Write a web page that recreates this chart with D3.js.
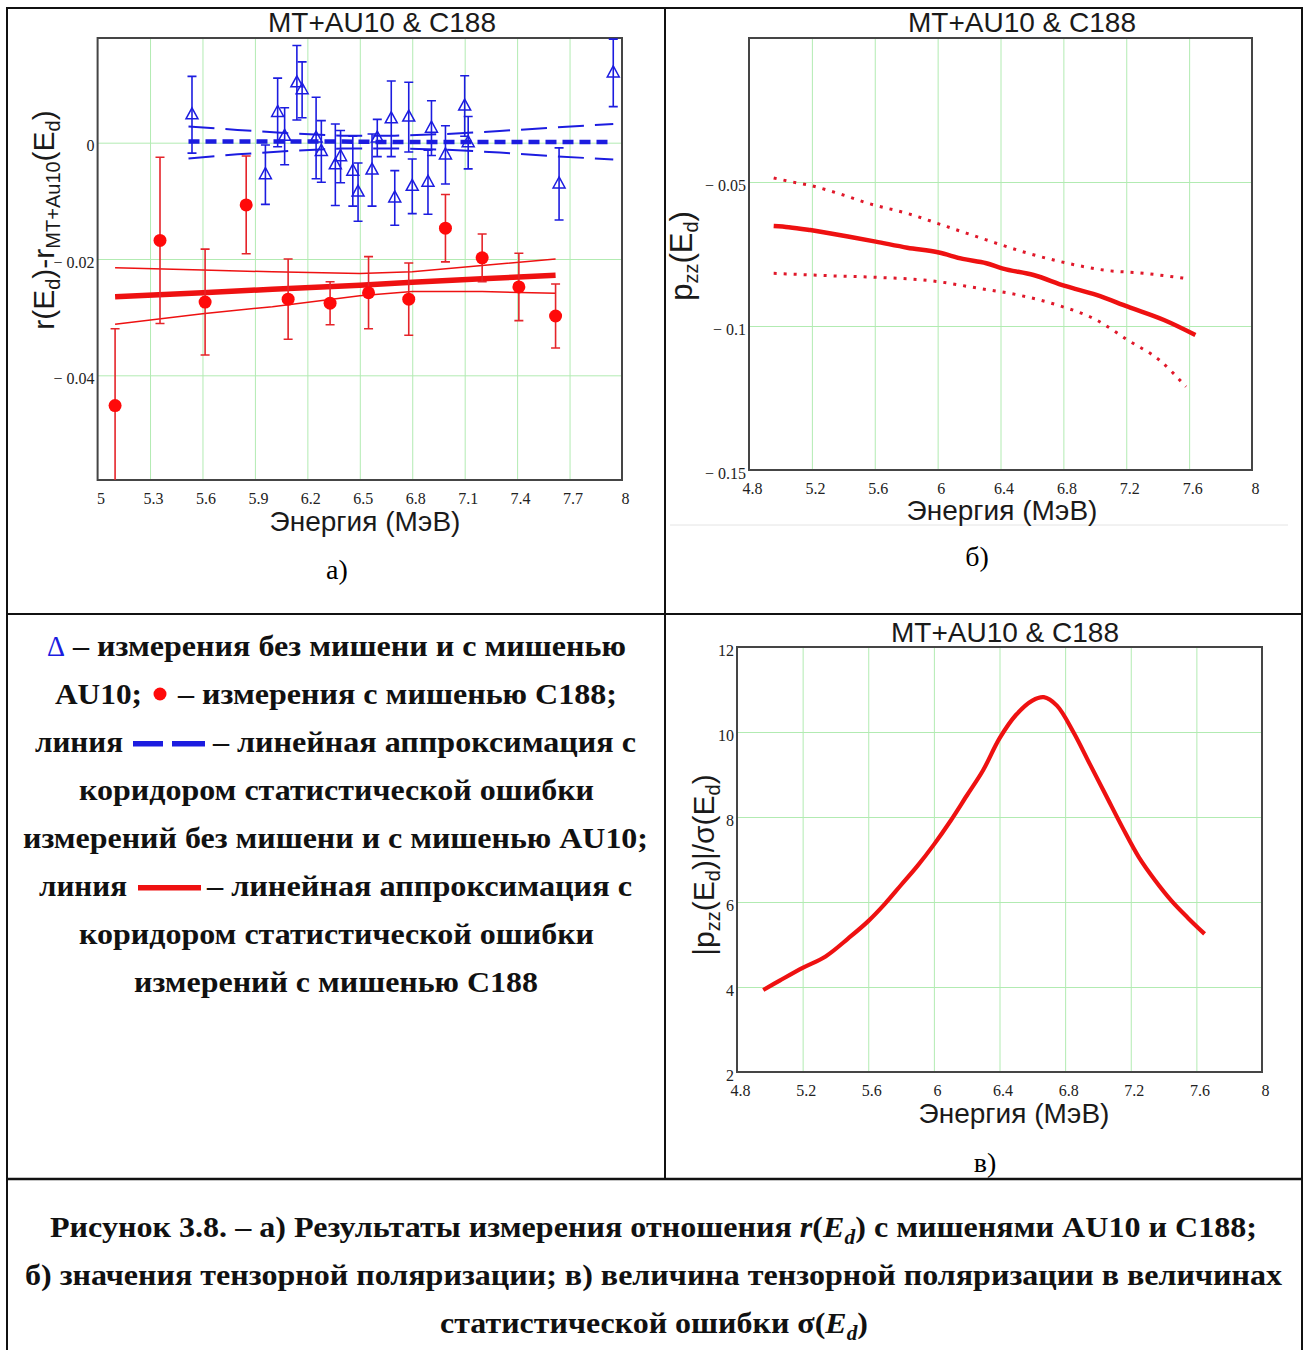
<!DOCTYPE html>
<html><head><meta charset="utf-8">
<script src="https://cdn.jsdelivr.net/npm/d3@7"></script>
<style>body{margin:0;background:#fff}</style>
</head><body><script>
// ---- panel a: r(Ed) - rMT+Au10(Ed) ----
blueE   = [5.54, 5.96, 6.03, 6.07, 6.14, 6.17, 6.25, 6.28, 6.36, 6.39, 6.46, 6.49, 6.57, 6.60, 6.68, 6.70, 6.78, 6.80, 6.89, 6.91, 6.99, 7.10, 7.12, 7.64, 7.95];
blueV   = [0.0048, -0.0055, 0.0052, 0.0011, 0.0103, 0.0091, 0.0008, -0.0015, -0.0038, -0.0024, -0.0049, -0.0085, -0.0047, 0.0008, 0.0041, -0.0095, 0.0044, -0.0075, -0.0068, 0.0025, -0.0021, 0.0063, 0.0000, -0.0071, 0.0120];
blueErr = [0.0066, 0.0051, 0.0059, 0.0049, 0.0064, 0.0048, 0.0070, 0.0053, 0.0070, 0.0045, 0.0060, 0.0050, 0.0062, 0.0032, 0.0065, 0.0047, 0.0060, 0.0047, 0.0055, 0.0047, 0.0050, 0.0052, 0.0045, 0.0062, 0.0058];

blueFitE   = [5.52, 5.8, 6.1, 6.4, 6.7, 7.0, 7.3, 7.6, 7.95];
blueFit    = [0.0002, 0.0002, 0.0002, 0.0002, 0.0001, 0.0001, 0.0001, 0.0001, 0.0001];
blueUpper  = [0.0028, 0.0022, 0.0016, 0.0012, 0.0012, 0.0015, 0.0020, 0.0026, 0.0032];
blueLower  = [-0.0027, -0.0020, -0.0014, -0.0010, -0.0010, -0.0012, -0.0017, -0.0023, -0.0029];

redE   = [5.10, 5.357, 5.615, 5.85, 6.09, 6.33, 6.55, 6.78, 6.99, 7.20, 7.41, 7.62];
redV   = [-0.0452, -0.0168, -0.0274, -0.0107, -0.0269, -0.0276, -0.0258, -0.0269, -0.0147, -0.0198, -0.0248, -0.0298];
redErr = [0.0132, 0.0143, 0.0091, 0.0084, 0.0069, 0.0037, 0.0062, 0.0062, 0.0058, 0.0041, 0.0058, 0.0055];

redFitE   = [5.1, 5.6, 6.0, 6.5, 6.8, 7.2, 7.62];
redFit    = [-0.0265, -0.0258, -0.0252, -0.0245, -0.0240, -0.0234, -0.0228];
redUpper  = [-0.0215, -0.0219, -0.0222, -0.0225, -0.0222, -0.0211, -0.0200];
redLower  = [-0.0312, -0.0294, -0.0282, -0.0263, -0.0256, -0.0256, -0.0259];

xTicksA = [5, 5.3, 5.6, 5.9, 6.2, 6.5, 6.8, 7.1, 7.4, 7.7, 8];
yTicksA = [0, -0.02, -0.04];

// ---- panel б: pzz(Ed) ----
pzzE  = [4.957, 5.053, 5.19, 5.455, 5.606, 5.807, 6.008, 6.16, 6.31, 6.41, 6.61, 6.81, 7.01, 7.21, 7.44, 7.64];
pzzV  = [-0.0653, -0.0657, -0.0667, -0.0692, -0.0707, -0.0728, -0.0745, -0.0767, -0.0782, -0.0800, -0.0823, -0.0861, -0.0892, -0.0933, -0.0979, -0.1031];
pzzUpE = [4.957, 5.05, 5.19, 5.37, 5.57, 5.807, 6.06, 6.31, 6.56, 6.81, 7.06, 7.31, 7.58];
pzzUp  = [-0.0486, -0.0497, -0.0512, -0.0540, -0.0576, -0.0609, -0.0655, -0.0701, -0.0745, -0.0780, -0.0806, -0.0817, -0.0835];
pzzLoE = [4.957, 5.29, 5.606, 5.96, 6.26, 6.51, 6.76, 7.01, 7.21, 7.41, 7.58];
pzzLo  = [-0.0817, -0.0825, -0.0831, -0.0843, -0.0869, -0.0892, -0.0927, -0.0979, -0.1049, -0.1118, -0.1211];

xTicksB = [4.8, 5.2, 5.6, 6, 6.4, 6.8, 7.2, 7.6, 8];
yTicksB = [-0.05, -0.1, -0.15];

// ---- panel в: |pzz|/sigma ----
sigE = [4.96, 5.06, 5.2, 5.34, 5.48, 5.6, 5.7, 5.8, 5.9, 6.0, 6.1, 6.2, 6.3, 6.4, 6.5, 6.6, 6.67, 6.75, 6.85, 6.95, 7.05, 7.15, 7.25, 7.35, 7.45, 7.55, 7.65];
sigV = [3.93, 4.15, 4.45, 4.72, 5.15, 5.55, 5.95, 6.4, 6.85, 7.35, 7.9, 8.5, 9.1, 9.85, 10.4, 10.74, 10.82, 10.62, 10.0, 9.25, 8.5, 7.75, 7.05, 6.5, 6.02, 5.62, 5.25];

xTicksC = [4.8, 5.2, 5.6, 6, 6.4, 6.8, 7.2, 7.6, 8];
yTicksC = [2, 4, 6, 8, 10, 12];

title = 'MT+AU10 & C188';
xLabel = 'Энергия (МэВ)';

legendRows = [
  ['Δ', '– измерения без мишени и с мишенью'],
  ['AU10;', '– измерения с мишенью С188;'],
  ['линия', '– линейная аппроксимация с'],
  ['коридором статистической ошибки'],
  ['измерений без мишени и с мишенью AU10;'],
  ['линия', '– линейная аппроксимация с'],
  ['коридором статистической ошибки'],
  ['измерений с мишенью С188']
];

const serif = '"Liberation Serif","Times New Roman",Times,serif';
const sans = '"Liberation Sans",Arial,sans-serif';
const green = '#b2ebb2';
const blue = '#1c1ce0';
const red = '#ee1111';

const svg = d3.select('body').append('svg').attr('width', 1310).attr('height', 1350).style('display', 'block');
svg.append('rect').attr('width', 1310).attr('height', 1350).attr('fill', '#fff');

function fmt(v) { return v < 0 ? '\u2212 ' + String(Math.abs(v)) : String(v); }

function axes(id, x, y, xt, yt, gx, gy) {
  const [x0, x1] = x.range(), [yb, ytop] = y.range();
  const w = x1 - x0, h = yb - ytop;
  const g1 = svg.append('g').attr('transform', `translate(0,${yb})`)
    .call(d3.axisBottom(x).tickValues(gx).tickSize(-h).tickFormat(''));
  g1.select('.domain').remove();
  g1.selectAll('line').attr('stroke', green);
  const g2 = svg.append('g').attr('transform', `translate(${x0},0)`)
    .call(d3.axisLeft(y).tickValues(gy).tickSize(-w).tickFormat(''));
  g2.select('.domain').remove();
  g2.selectAll('line').attr('stroke', green);
  svg.append('rect').attr('x', x0).attr('y', ytop).attr('width', w).attr('height', h)
    .attr('fill', 'none').attr('stroke', '#454545').attr('stroke-width', 2);
  const bx = svg.append('g').attr('transform', `translate(3,${yb})`)
    .call(d3.axisBottom(x).tickValues(xt).tickSize(0).tickPadding(13).tickFormat(fmt));
  bx.select('.domain').remove();
  bx.attr('font-family', serif).attr('font-size', 16).attr('color', '#222');
  const by = svg.append('g').attr('transform', `translate(${x0 - 2},3)`)
    .call(d3.axisLeft(y).tickValues(yt).tickSize(0).tickPadding(1).tickFormat(fmt));
  by.select('.domain').remove();
  by.attr('font-family', serif).attr('font-size', 16).attr('color', '#222');
  svg.append('clipPath').attr('id', id).append('rect')
    .attr('x', x0).attr('y', ytop).attr('width', w).attr('height', h);
  return svg.append('g').attr('clip-path', `url(#${id})`);
}

function label(x, y, text, size, anchor) {
  return svg.append('text').attr('x', x).attr('y', y).attr('text-anchor', anchor || 'middle')
    .attr('font-family', sans).attr('font-size', size).attr('fill', '#1a1a1a').text(text);
}

// rotated label built from parts [text, isSub]
function yLabel(x, y, parts, size, sub) {
  const t = svg.append('text').attr('transform', `translate(${x},${y}) rotate(-90)`)
    .attr('text-anchor', 'middle').attr('font-family', sans).attr('font-size', size).attr('fill', '#1a1a1a');
  let shift = 0;
  parts.forEach(p => {
    const s = t.append('tspan').text(p[0]);
    const want = p[1] ? 6 : 0;
    if (want !== shift) { s.attr('dy', want - shift); shift = want; }
    if (p[1]) s.attr('font-size', sub);
  });
}

const line = (x, y) => d3.line().x(d => x(d[0])).y(d => y(d[1]));

// ================= panel a =================
const xA = d3.scaleLinear().domain([5, 8]).range([97.6, 622]);
const yA = d3.scaleLinear().domain([-0.058, 0.018]).range([480, 38]);
const pA = axes('clipA', xA, yA, xTicksA, yTicksA, xTicksA.slice(1, -1), yTicksA);
const lA = line(xA, yA);

// blue fit and corridor
pA.append('path').attr('d', lA(d3.zip(blueFitE, blueUpper))).attr('fill', 'none')
  .attr('stroke', blue).attr('stroke-width', 2).attr('stroke-dasharray', '26,11');
pA.append('path').attr('d', lA(d3.zip(blueFitE, blueLower))).attr('fill', 'none')
  .attr('stroke', blue).attr('stroke-width', 2).attr('stroke-dasharray', '26,11');
pA.append('path').attr('d', lA(d3.zip(blueFitE, blueFit))).attr('fill', 'none')
  .attr('stroke', blue).attr('stroke-width', 4.5).attr('stroke-dasharray', '11,6');

// red fit and corridor
pA.append('path').attr('d', lA(d3.zip(redFitE, redUpper))).attr('fill', 'none')
  .attr('stroke', red).attr('stroke-width', 1.5);
pA.append('path').attr('d', lA(d3.zip(redFitE, redLower))).attr('fill', 'none')
  .attr('stroke', red).attr('stroke-width', 1.5);
pA.append('path').attr('d', lA(d3.zip(redFitE, redFit))).attr('fill', 'none')
  .attr('stroke', red).attr('stroke-width', 5.5);

// error bars
function errBars(g, E, V, Err, color, w) {
  const d = d3.zip(E, V, Err);
  const eb = g.append('g').attr('stroke', color).attr('stroke-width', w).attr('fill', 'none');
  eb.selectAll('path').data(d).join('path').attr('d', p => {
    const x = xA(p[0]), t = yA(p[1] + p[2]), b = yA(p[1] - p[2]);
    return `M${x},${t}V${b}M${x - 4.5},${t}H${x + 4.5}M${x - 4.5},${b}H${x + 4.5}`;
  });
  return d;
}
const bd = errBars(pA, blueE, blueV, blueErr, blue, 1.6);
pA.append('g').selectAll('path').data(bd).join('path')
  .attr('transform', p => `translate(${xA(p[0])},${yA(p[1])})`)
  .attr('d', 'M0,-7L6,4L-6,4Z')
  .attr('fill', 'none').attr('stroke', blue).attr('stroke-width', 1.5);
const rd = errBars(pA, redE, redV, redErr, '#e5242a', 1.6);
pA.append('g').selectAll('circle').data(rd).join('circle')
  .attr('cx', p => xA(p[0])).attr('cy', p => yA(p[1])).attr('r', 6.5).attr('fill', '#ff0a0a');

label(382, 32, title, 28);
label(365, 531, xLabel, 28);
yLabel(54, 220, [['r(E', 0], ['d', 1], [')-r', 0], ['MT+Au10', 1], ['(E', 0], ['d', 1], [')', 0]], 30, 20);
svg.append('text').attr('x', 337).attr('y', 579).attr('text-anchor', 'middle')
  .attr('font-family', serif).attr('font-size', 28).text('а)');

// ================= panel б =================
const xB = d3.scaleLinear().domain([4.8, 8]).range([749, 1252]);
const yB = d3.scaleLinear().domain([-0.15, 0]).range([470, 38]);
svg.append('line').attr('x1', 670).attr('x2', 1288).attr('y1', 525).attr('y2', 525).attr('stroke', '#e4e4e4');
const pB = axes('clipB', xB, yB, xTicksB, yTicksB, xTicksB.slice(1, -1), [-0.05, -0.1]);
const lB = line(xB, yB).curve(d3.curveMonotoneX);
pB.append('path').attr('d', lB(d3.zip(pzzUpE, pzzUp))).attr('fill', 'none')
  .attr('stroke', '#e0182a').attr('stroke-width', 3).attr('stroke-dasharray', '3,7');
pB.append('path').attr('d', lB(d3.zip(pzzLoE, pzzLo))).attr('fill', 'none')
  .attr('stroke', '#e0182a').attr('stroke-width', 3).attr('stroke-dasharray', '3,7');
pB.append('path').attr('d', lB(d3.zip(pzzE, pzzV))).attr('fill', 'none')
  .attr('stroke', red).attr('stroke-width', 4.5);

label(1022, 32, title, 28);
label(1002, 520, xLabel, 28);
yLabel(692, 256, [['p', 0], ['zz', 1], ['(E', 0], ['d', 1], [')', 0]], 31, 20);
svg.append('text').attr('x', 977).attr('y', 566).attr('text-anchor', 'middle')
  .attr('font-family', serif).attr('font-size', 28).text('б)');

// ================= panel в =================
const xC = d3.scaleLinear().domain([4.8, 8]).range([737, 1262]);
const yC = d3.scaleLinear().domain([2, 12]).range([1072, 647]);
const pC = axes('clipC', xC, yC, xTicksC, yTicksC, xTicksC.slice(1, -1), yTicksC.slice(1, -1));
pC.append('path').attr('d', line(xC, yC).curve(d3.curveCatmullRom)(d3.zip(sigE, sigV)))
  .attr('fill', 'none').attr('stroke', red).attr('stroke-width', 4.2);

label(1005, 642, title, 28);
label(1014, 1123, xLabel, 28);
yLabel(714, 865, [['|p', 0], ['zz', 1], ['(E', 0], ['d', 1], [')|/σ(E', 0], ['d', 1], [')', 0]], 30, 20);
svg.append('text').attr('x', 985).attr('y', 1172).attr('text-anchor', 'middle')
  .attr('font-family', serif).attr('font-size', 28).text('в)');

// ================= table lines =================
const tl = svg.append('g').attr('stroke', '#111').attr('stroke-width', 2);
tl.append('line').attr('x1', 7).attr('x2', 1302).attr('y1', 8).attr('y2', 8);
tl.append('line').attr('x1', 7).attr('x2', 7).attr('y1', 7).attr('y2', 1350);
tl.append('line').attr('x1', 1302).attr('x2', 1302).attr('y1', 7).attr('y2', 1350);
tl.append('line').attr('x1', 665).attr('x2', 665).attr('y1', 8).attr('y2', 1179);
tl.append('line').attr('x1', 7).attr('x2', 1302).attr('y1', 614).attr('y2', 614);
tl.append('line').attr('x1', 7).attr('x2', 1302).attr('y1', 1179).attr('y2', 1179).attr('stroke-width', 2.5);

// ================= legend text =================
function row(x0, x1, y, parts, color) {
  const t = svg.append('text').attr('x', x0).attr('y', y)
    .attr('font-family', serif).attr('font-weight', 'bold').attr('font-size', 30).attr('fill', color || '#111')
    .attr('textLength', x1 - x0).attr('lengthAdjust', 'spacingAndGlyphs');
  let shift = 0;
  parts.forEach(p => {
    if (typeof p === 'string') p = { t: p };
    const s = t.append('tspan').text(p.t);
    if (p.i) s.attr('font-style', 'italic');
    const want = p.sub ? 7 : 0;
    if (want !== shift) { s.attr('dy', want - shift); shift = want; }
    if (p.sub) s.attr('font-size', 20);
  });
  return t;
}

svg.append('text').attr('x', 47).attr('y', 656).attr('font-family', serif).attr('font-size', 30)
  .attr('fill', blue).attr('textLength', 18).attr('lengthAdjust', 'spacingAndGlyphs').text(legendRows[0][0]);
row(73, 626, 656, [legendRows[0][1]]);
row(55, 142, 704, [legendRows[1][0]]);
svg.append('circle').attr('cx', 160).attr('cy', 694).attr('r', 6.5).attr('fill', '#ff0a0a');
row(178, 617, 704, [legendRows[1][1]]);
row(35, 123, 752, [legendRows[2][0]]);
svg.append('rect').attr('x', 133).attr('y', 741).attr('width', 30).attr('height', 5.5).attr('fill', blue);
svg.append('rect').attr('x', 172).attr('y', 741).attr('width', 33).attr('height', 5.5).attr('fill', blue);
row(213, 636, 752, [legendRows[2][1]]);
row(79, 594, 800, [legendRows[3][0]]);
row(23, 648, 848, [legendRows[4][0]]);
row(39, 127, 896, [legendRows[5][0]]);
svg.append('rect').attr('x', 138).attr('y', 885).attr('width', 63).attr('height', 5.5).attr('fill', red);
row(207, 632, 896, [legendRows[5][1]]);
row(79, 594, 944, [legendRows[6][0]]);
row(134, 538, 992, [legendRows[7][0]]);

// ================= caption =================
row(50, 1257, 1237, ['Рисунок 3.8. – а) Результаты измерения отношения ', { t: 'r', i: 1 }, '(', { t: 'E', i: 1 }, { t: 'd', i: 1, sub: 1 }, ') с мишенями AU10 и С188;']);
row(25, 1282, 1285, ['б) значения тензорной поляризации; в) величина тензорной поляризации в величинах']);
row(440, 868, 1333, ['статистической ошибки σ(', { t: 'E', i: 1 }, { t: 'd', i: 1, sub: 1 }, ')']);
</script></body></html>
